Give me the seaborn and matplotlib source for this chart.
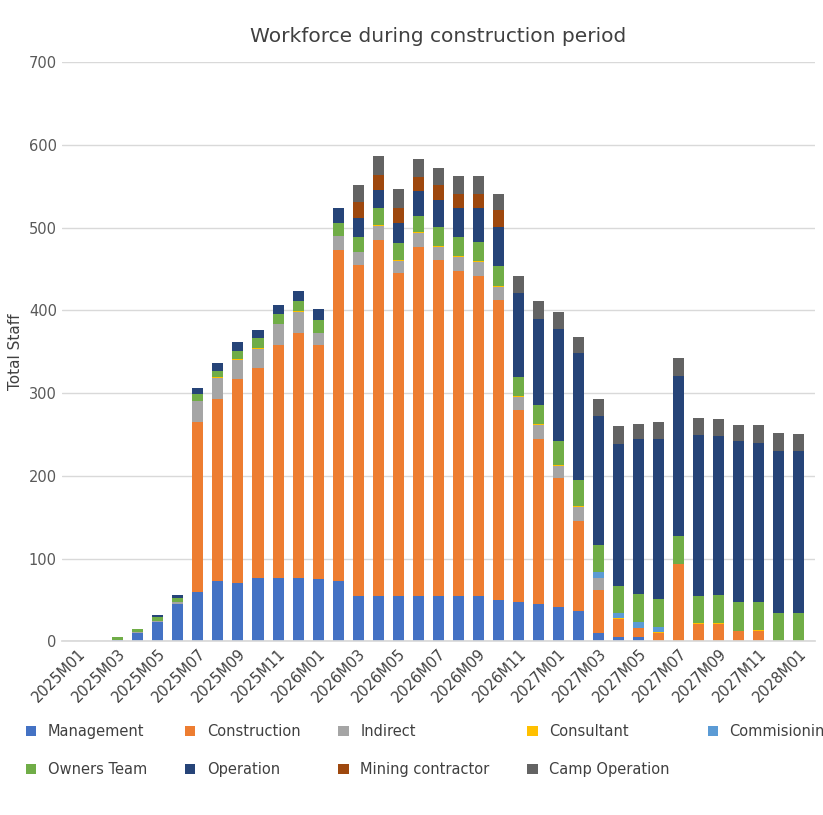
import numpy as np
import pandas as pd
import matplotlib
matplotlib.use("Agg")
import matplotlib.pyplot as plt
import seaborn as sns

months = [f"{y}M{m:02d}" for y in (2025, 2026, 2027) for m in range(1, 13)] + ["2028M01"]

management = [0,0,2,10,23,45,60,73,70,77,77,77,75,73,55,55,55,55,55,55,55,50,47,45,42,37,10,5,5,0,0,0,0,0,0,0,0]
construction = [0,0,0,0,0,0,205,220,247,253,281,296,283,400,400,430,390,422,406,393,387,363,232,200,155,109,52,22,11,10,93,21,21,12,13,0,0]
indirect = [0,0,0,1,2,3,25,25,23,23,25,25,15,17,15,17,15,16,16,16,16,15,16,17,15,16,15,0,0,0,0,0,0,0,0,0,0]
consultant = [0,0,0,0,0,0,1,1,1,1,1,1,0,0,1,1,1,1,1,1,1,1,1,1,1,1,0,1,0,1,0,1,1,0,1,0,0]
commissioning = [0,0,0,0,0,0,0,0,0,0,0,0,0,0,0,0,0,0,0,0,0,0,0,0,0,0,7,6,7,6,0,0,0,0,0,0,0]
owners = [0,1,3,4,5,5,8,8,10,12,12,12,15,15,18,20,20,20,23,23,24,24,23,23,29,32,33,33,34,34,34,33,34,35,33,34,34]
operation = [0,0,0,0,2,3,7,9,11,10,10,12,14,18,22,22,25,30,32,35,40,48,102,104,135,153,155,172,187,193,194,194,192,195,193,196,196]
mining = [0,0,0,0,0,0,0,0,0,0,0,0,0,0,20,19,18,17,18,18,18,20,0,0,0,0,0,0,0,0,0,0,0,0,0,0,0]
camp = [0,0,0,0,0,0,0,0,0,0,0,0,0,0,20,22,22,22,21,21,21,19,21,21,21,20,21,21,19,21,21,21,21,20,21,22,20]

series = [("Management", management, "#4472C4"), ("Construction", construction, "#ED7D31"),
          ("Indirect", indirect, "#A5A5A5"), ("Consultant", consultant, "#FFC000"),
          ("Commisioning", commissioning, "#5B9BD5"), ("Owners Team", owners, "#70AD47"),
          ("Operation", operation, "#264478"), ("Mining contractor", mining, "#9E480E"),
          ("Camp Operation", camp, "#636363")]

sns.set_theme(style="white")
plt.rcParams['font.family'] = ['DejaVu Sans']
fig = plt.figure(figsize=(8.23, 8.15), dpi=100)
ax = fig.add_axes([0.075, 0.213, 0.915, 0.711])
bottom = np.zeros(len(months))
for name, vals, col in series:
    df = pd.DataFrame({"month": months, "v": vals})
    sns.barplot(data=df, x="month", y="v", color=col, bottom=bottom, width=0.55,
                ax=ax, label=name, saturation=1, linewidth=0)
    bottom = bottom + np.array(vals)

ax.set_ylim(0, 700)
ax.set_yticks(range(0, 701, 100))
ax.yaxis.grid(True, color="#D9D9D9", linewidth=1)
ax.set_axisbelow(True)
for s in ["top", "right", "left"]:
    ax.spines[s].set_visible(False)
ax.spines["bottom"].set_color("#D9D9D9")
ax.set_xticks(range(0, len(months), 2))
ax.set_xticklabels(months[::2], rotation=45, ha="right", rotation_mode="anchor", fontsize=10.5, color="#404040")
ax.tick_params(axis="y", labelsize=10.5, colors="#595959", length=0)
ax.tick_params(axis="x", length=0)
ax.set_xlabel("")
ax.set_ylabel("Total Staff", fontsize=11, color="#404040")
ax.set_xlim(-0.8, len(months) - 0.2)
ax.set_title("Workforce during construction period", fontsize=14.5, color="#404040", pad=14)
h, l = ax.get_legend_handles_labels()
order = [0, 5, 1, 6, 2, 7, 3, 8, 4]
ax.legend([h[i] for i in order], [l[i] for i in order], loc="upper left",
          bbox_to_anchor=(-0.065, -0.12), ncol=5, frameon=False,
          fontsize=10.5, handlelength=0.7, handleheight=0.7, columnspacing=2.6,
          labelspacing=1.6, labelcolor="#404040")
fig.savefig("out.png", dpi=100)
